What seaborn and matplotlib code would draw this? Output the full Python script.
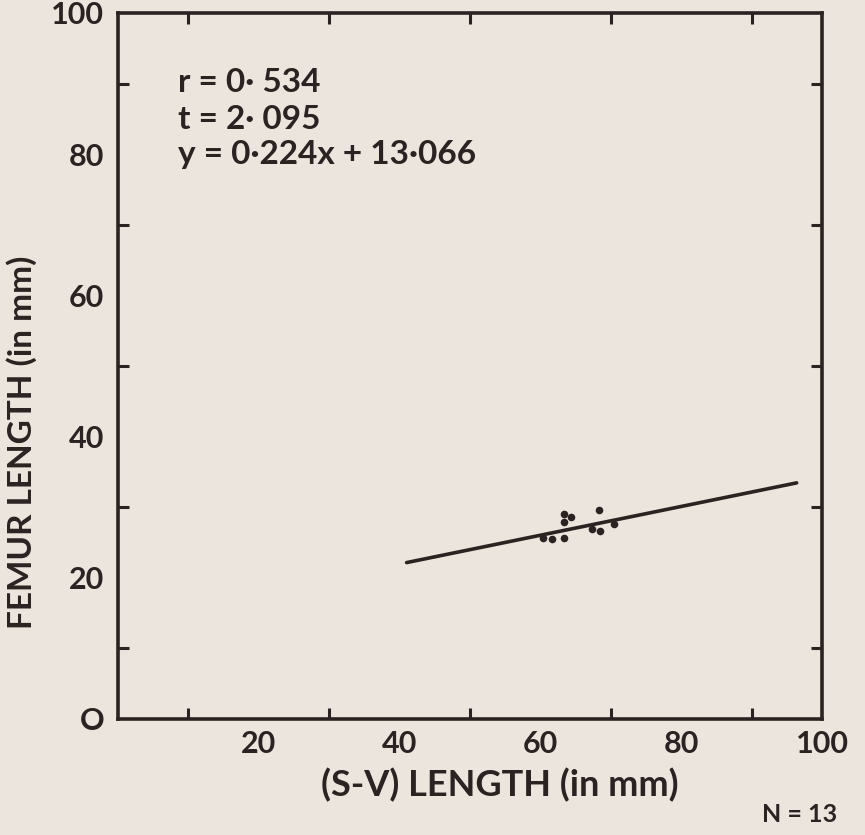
import matplotlib
matplotlib.use("Agg")
import matplotlib.pyplot as plt
import seaborn as sns
import pandas as pd

# Data
sv_length = [63.4, 64.4, 63.4, 68.3, 70.5, 67.4, 68.5, 60.3, 61.7, 63.4]
femur_length = [29.0, 28.5, 27.8, 29.5, 27.5, 26.8, 26.6, 25.6, 25.5, 25.6]
line_x = [41.0, 96.4]
line_y = [22.1, 33.4]
x_ticks = [20, 40, 60, 80, 100]
y_ticks = [0, 20, 40, 60, 80, 100]
minor_ticks = [10, 20, 30, 40, 50, 60, 70, 80, 90]
stats_lines = ["r = 0· 534", "t = 2· 095", "y = 0·224x + 13·066"]

bg = "#ebe5dd"
ink = "#2b2222"

sns.set_theme(style="white")
plt.rcParams['font.family'] = ['Lato', 'DejaVu Sans']
plt.rcParams['font.weight'] = 'bold'

fig = plt.figure(figsize=(8.65, 8.35), dpi=100, facecolor=bg)
ax = fig.add_axes([118/865, 1 - 718.5/835, 704/865, 705.5/835])
ax.set_facecolor(bg)

pts = pd.DataFrame({"x": sv_length, "y": femur_length})
sns.scatterplot(data=pts, x="x", y="y", ax=ax, color=ink, s=30, edgecolor=ink, linewidth=0)
ln = pd.DataFrame({"x": line_x, "y": line_y})
sns.lineplot(data=ln, x="x", y="y", ax=ax, color=ink, linewidth=2.6)

ax.set_xlim(0, 100)
ax.set_ylim(0, 100)
for s in ax.spines.values():
    s.set_visible(True)
    s.set_color(ink)
    s.set_linewidth(2.6)

ax.set_xticks(minor_ticks, minor=True)
ax.set_yticks(minor_ticks, minor=True)
ax.set_xticks(x_ticks)
ax.set_yticks(y_ticks)
ax.set_xticklabels([str(v) for v in x_ticks], fontweight="bold")
ax.set_yticklabels(["O" if v == 0 else str(v) for v in y_ticks], fontweight="bold")
ax.tick_params(which="major", length=0, labelsize=22, colors=ink)
ax.tick_params(axis="x", which="major", pad=8)
ax.tick_params(axis="y", which="major", pad=10)
ax.tick_params(which="minor", direction="in", length=8, width=2.2, color=ink,
               top=True, bottom=True, left=True, right=True)
ax.set_xlabel("")
ax.set_ylabel("")

fig.text(500/865, 1 - 785/835, "(S-V) LENGTH (in mm)", fontsize=26, color=ink,
         ha="center", va="center", fontweight="bold")
fig.text(22/865, 1 - 442/835, "FEMUR LENGTH (in mm)", fontsize=24, color=ink,
         ha="center", va="center", rotation=90, fontweight="bold")

stat_y = [90.1, 84.9, 79.9]
for t, yv in zip(stats_lines, stat_y):
    ax.text(8.5, yv, t, fontsize=24, color=ink, ha="left", va="center",
            fontweight="bold")

fig.text(762/865, 1 - 815/835, "N = 13", fontsize=18, color=ink, ha="left", va="center",
         fontweight="bold")

fig.savefig("out.png", dpi=100, facecolor=bg)
